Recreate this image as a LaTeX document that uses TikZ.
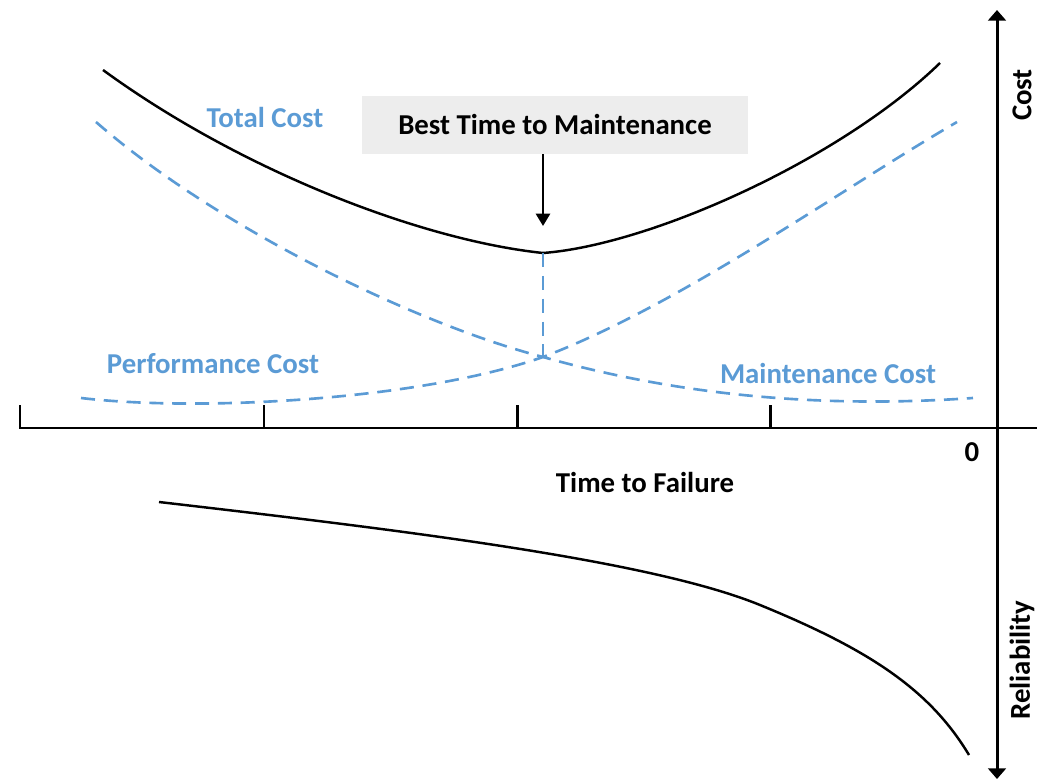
\documentclass[tikz,border=0pt]{standalone}
\usepackage{fontspec}
\setmainfont{Carlito}
\usetikzlibrary{calc,
arrows.meta,
positioning}
\definecolor{costblue}{RGB}{91,155,213}
\definecolor{boxgray}{RGB}{237,237,237}

\begin{document}
\begin{tikzpicture} [x=0.02cm, y=-0.02cm,
    line join=miter,
    axis/.style={line width=1.7pt},
    total curve/.style={line width=1.4pt},
    cost curve/.style={costblue, line width=1.5pt,
        dash pattern=on 8pt off 5pt},
    every node/.style={font=\fontsize{16.4}{19}\selectfont\bfseries},
    cost label/.style={text=costblue}
  ]
  \useasboundingbox (0,0) rectangle (1037,780);

  % axes
  \coordinate (xstart) at (20,405);
  \coordinate (xend) at (1037,428);
  \coordinate (ytop) at (997,10);
  \coordinate (ybot) at (997,779);

  \draw [axis] (xstart) |- (xend);
  \foreach \tx in {264, 517, 770}
    \draw [axis] (\tx,428) -- (\tx,405);
  \draw [axis, {Triangle[length=6pt, width=10pt]}-{Triangle[length=6pt, width=10pt]}]
    (ybot) -- (ytop);

  \node [rotate=90] (costax) at (1022,95) {Cost};
  \node [rotate=90] (relax) at (1022,660) {Reliability};
  \node (zero) at (972,452) {0};
  \node (ttf) at (645,482) {Time to Failure};

  % cost curves
  \coordinate (opt) at (543,253);
  \coordinate (cross) at (543,357);

  \draw [total curve] (103,70) .. controls (240,170) and (420,240) .. (opt)
    .. controls (650,245) and (840,160) .. (940,63);

  \draw [cost curve] (96,122) .. controls (220,230) and (420,325) .. (cross)
    .. controls (660,390) and (800,410) .. (973,398);
  \draw [cost curve] (81,398) .. controls (200,412) and (420,400) .. (cross)
    .. controls (680,305) and (840,190) .. (957,122);
  \draw [cost curve] (opt) -- (cross);

  \node [cost label] (totl) at (265,118) {Total Cost};
  \node [cost label] (perfl) at (213,364) {Performance Cost};
  \node [cost label] (maintl) at (828,373) {Maintenance Cost};

  % best time box
  \node [fill=boxgray,
    minimum width=7.72cm,
    minimum height=1.16cm
  ] (best) at (555,125) {Best Time to Maintenance};

  \coordinate (tip) at (543,226);
  \draw [line width=1.4pt, -{Triangle[length=7pt, width=8pt]}] (best.south -| opt) -- (tip);

  % reliability
  \draw [total curve] (159,502) .. controls (400,530) and (650,560) .. (760,605)
    .. controls (870,650) and (930,690) .. (969,755);

\end{tikzpicture}
\end{document}
